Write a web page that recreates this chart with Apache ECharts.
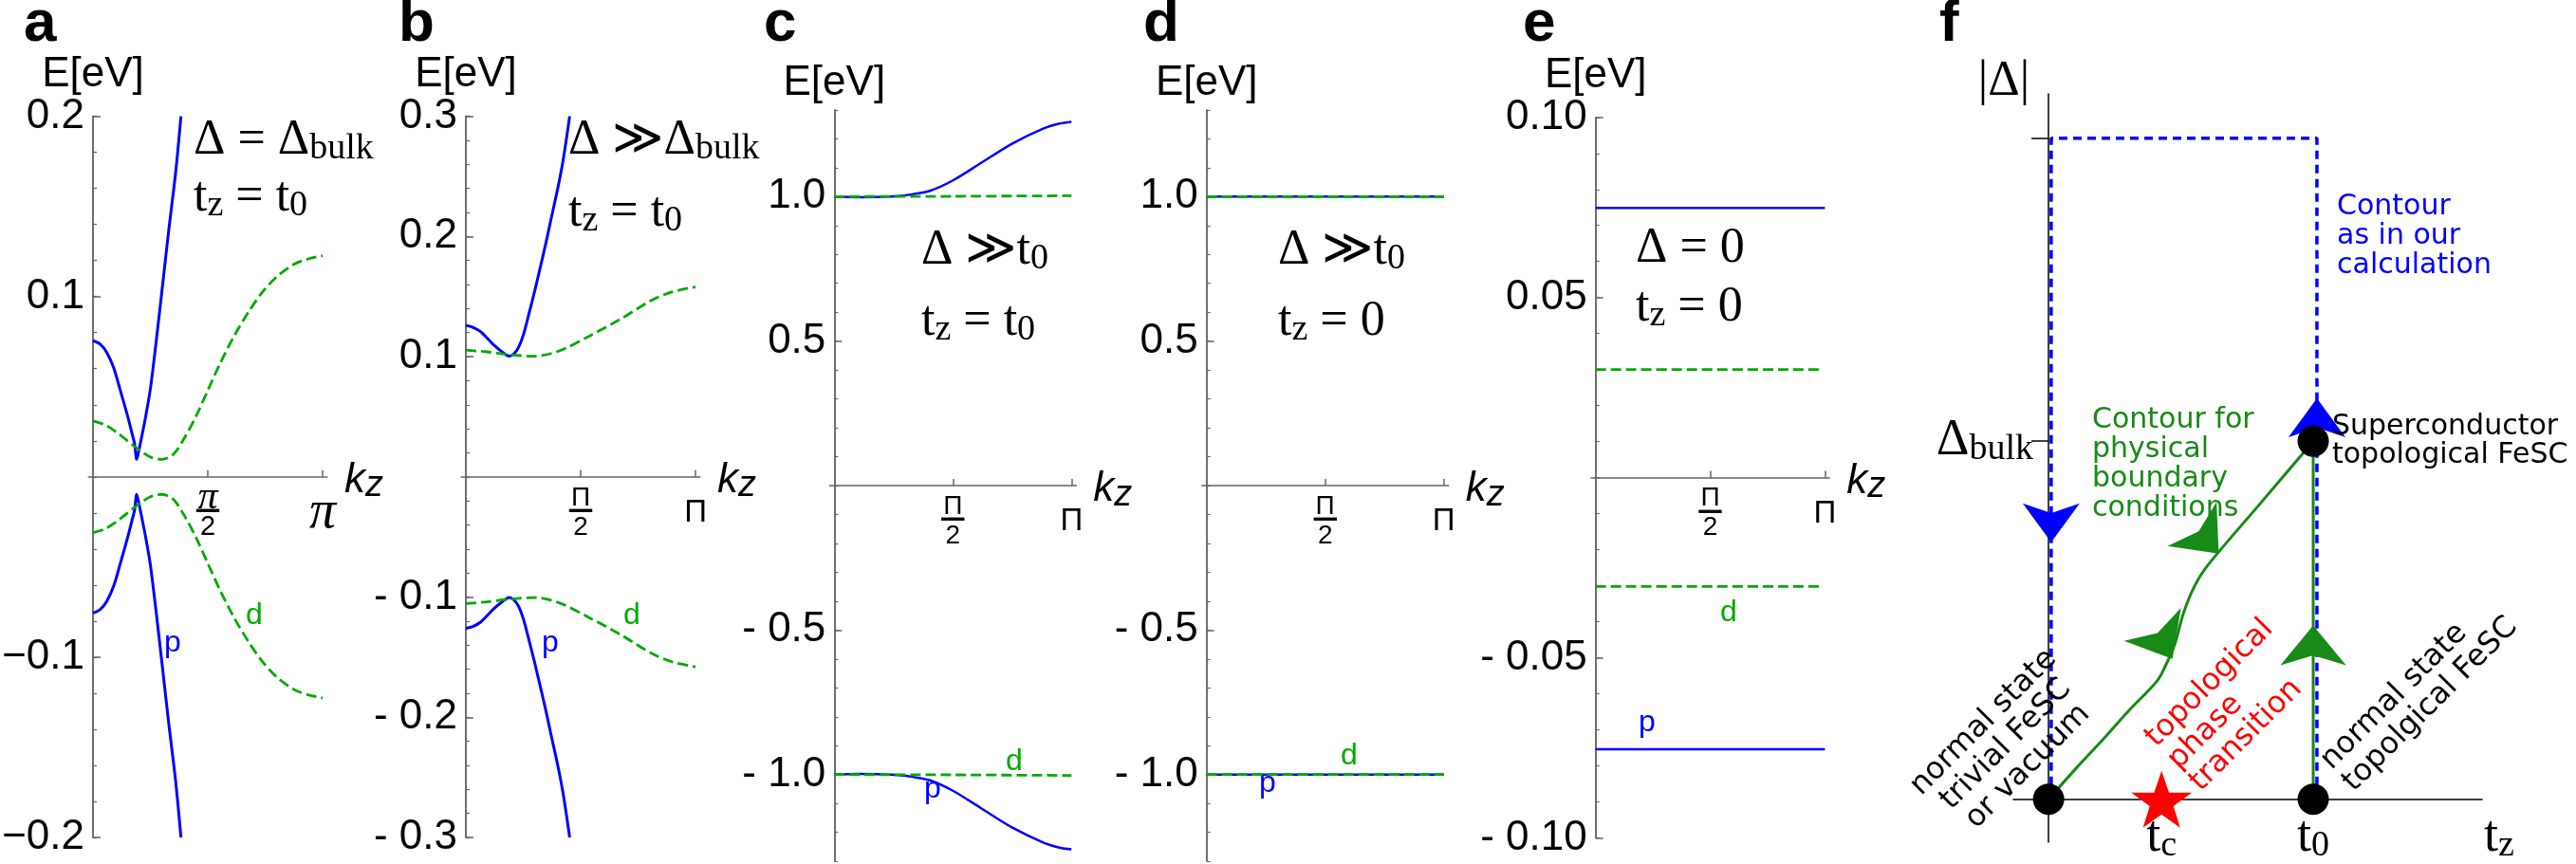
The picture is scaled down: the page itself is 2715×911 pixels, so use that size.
<!DOCTYPE html>
<html>
<head>
<meta charset="utf-8">
<script src="https://cdn.jsdelivr.net/npm/echarts@6/dist/echarts.min.js"></script>
<style>
html, body { margin: 0; padding: 0; background: #fff; }
#chart { width: 2715px; height: 911px; }
</style>
</head>
<body>
<div id="chart"></div>
<script>
// k_z is given as a fraction of pi (0 .. 1)
const kzTicks = [0.5, 1];
const aYTicks = [-0.2, -0.1, 0.1, 0.2];
const bYTicks = [-0.3, -0.2, -0.1, 0.1, 0.2, 0.3];
const cdYTicks = [-1.0, -0.5, 0.5, 1.0];
const eYTicks = [-0.1, -0.05, 0.05, 0.1];

// panel a
const aKzP = [0, 0.03, 0.06, 0.09, 0.118, 0.15, 0.17, 0.181, 0.19, 0.196, 0.21, 0.23, 0.25, 0.275, 0.30, 0.33, 0.36, 0.383];
const aPUpper = [0.0755, 0.0737, 0.069, 0.0605, 0.0484, 0.034, 0.024, 0.0184, 0.0097, 0.0125, 0.021, 0.034, 0.049, 0.075, 0.103, 0.137, 0.169, 0.2];
const aPLower = [-0.0755, -0.0737, -0.069, -0.0605, -0.0484, -0.034, -0.024, -0.0184, -0.0097, -0.0125, -0.021, -0.034, -0.049, -0.075, -0.103, -0.137, -0.169, -0.2];
const aKzD = [0, 0.05, 0.1, 0.15, 0.19, 0.25, 0.30, 0.35, 0.40, 0.45, 0.50, 0.55, 0.614, 0.68, 0.738, 0.80, 0.876, 0.94, 1.0];
const aDUpper = [0.031, 0.029, 0.025, 0.020, 0.016, 0.011, 0.0097, 0.0125, 0.022, 0.034, 0.048, 0.062, 0.078, 0.092, 0.1025, 0.111, 0.118, 0.121, 0.1226];
const aDLower = [-0.031, -0.029, -0.025, -0.020, -0.016, -0.011, -0.0097, -0.0125, -0.022, -0.034, -0.048, -0.062, -0.078, -0.092, -0.1025, -0.111, -0.118, -0.121, -0.1226];

// panel b
const bKzP = [0, 0.03, 0.065, 0.12, 0.161, 0.189, 0.21, 0.23, 0.25, 0.271, 0.30, 0.326, 0.35, 0.368, 0.40, 0.423, 0.452];
const bPUpper = [0.126, 0.1245, 0.1207, 0.110, 0.1035, 0.1004, 0.1025, 0.108, 0.118, 0.133, 0.155, 0.176, 0.196, 0.212, 0.240, 0.263, 0.300];
const bPLower = [-0.126, -0.1245, -0.1207, -0.110, -0.1035, -0.1004, -0.1025, -0.108, -0.118, -0.133, -0.155, -0.176, -0.196, -0.212, -0.240, -0.263, -0.300];
const bKzD = [0, 0.092, 0.189, 0.299, 0.409, 0.533, 0.671, 0.81, 0.9, 1.0];
const bDUpper = [0.1054, 0.104, 0.1017, 0.1004, 0.105, 0.1167, 0.131, 0.147, 0.154, 0.158];
const bDLower = [-0.1054, -0.104, -0.1017, -0.1004, -0.105, -0.1167, -0.131, -0.147, -0.154, -0.158];

// panel c
const cKzP = [0, 0.1, 0.2, 0.27, 0.33, 0.403, 0.5, 0.616, 0.749, 0.883, 0.95, 1.0];
const cPUpper = [1.0, 0.998, 0.999, 1.002, 1.008, 1.02, 1.056, 1.115, 1.183, 1.236, 1.253, 1.259];
const cPLower = [-1.0, -0.998, -0.999, -1.002, -1.008, -1.02, -1.056, -1.115, -1.183, -1.236, -1.253, -1.259];
const cKzD = [0, 0.5, 1.0];
const cDUpper = [1.0, 1.001, 1.003];
const cDLower = [-1.0, -1.001, -1.003];

// panel d
const dKz = [0, 1.0];
const dPUpper = [1.0, 1.0];
const dPLower = [-1.0, -1.0];
const dDUpper = [1.0, 1.0];
const dDLower = [-1.0, -1.0];

// panel e
const eKzP = [0, 1.0];
const ePUpper = [0.0749, 0.0749];
const ePLower = [-0.0754, -0.0754];
const eKzD = [0, 0.98];
const eDUpper = [0.030, 0.030];
const eDLower = [-0.0302, -0.0302];

// panel f (t_z in units of t0, |Delta| in units of Delta_bulk)
const fTc = 0.427;
const fTzLabels = [fTc, 1];
const fGapTicks = [1, 1.846];
const fStateTz = [0, 1, 1];
const fStateGap = [0, 0, 1];
const fBlueTz = [0.01, 0.01, 1.014, 1.014];
const fBlueGap = [0, 1.846, 1.846, 0];
const fGreenUpTz = [1, 1];
const fGreenUpGap = [0, 1];
const fGreenTz = [1, 0.80, 0.60, 0.55, 0.51, 0.476, 0.44, 0.41, 0.30, 0.217, 0.10, 0];
const fGreenGap = [1, 0.826, 0.652, 0.593, 0.52, 0.431, 0.37, 0.33, 0.245, 0.176, 0.083, 0];
const fArrowBlue = [[0.01, 0.718, 180], [1.014, 1.12, 0]];
const fArrowGreen = [[1, 0.485, 0], [0.643, 0.686, -138], [0.468, 0.392, -150]];

const SANS = "'Liberation Sans', Arial, sans-serif";
const SERIF = "'Liberation Serif', 'Times New Roman', serif";
const DEJAVU = "'DejaVu Sans', sans-serif";
const BLUE = '#0000ff';
const GREEN = '#00aa00';
const FGREEN = '#178a17';
const AXIS = '#666';
const STAR = 'path://M50,0 L61.8,35.1 L98.1,35.1 L68.8,56.7 L79.4,91 L50,70 L20.6,91 L31.2,56.7 L1.9,35.1 L38.2,35.1 Z';

function zip(xs, ys) { return xs.map((x, i) => [x, ys[i]]); }

const grids = [
  {left: 93.2, top: 122.6, width: 251.7, height: 760.4},
  {left: 486.2, top: 122.6, width: 251.7, height: 760.4},
  {left: 874.3, top: 115.9, width: 260, height: 792.2},
  {left: 1266.7, top: 115.9, width: 260, height: 792.2},
  {left: 1676.9, top: 123.8, width: 251.3, height: 759.6},
  {left: 2122, top: 99, width: 494, height: 789}
].map(g => Object.assign({containLabel: false, outerBoundsMode: 'none'}, g));

// axes sit on the zero lines: shift them from the grid edges
function xOffset(g, ymin, ymax) { return -g.height * (0 - ymin) / (ymax - ymin); }
function yOffset(g, xmin, xmax) { return -g.width * (0 - xmin) / (xmax - xmin); }

const fmtA = v => (v < 0 ? '\u2212' : '') + Math.abs(v).toFixed(1);
const fmtB = v => (v < 0 ? '- ' : '') + Math.abs(v).toFixed(1);
const fmtE = v => (v < 0 ? '- ' : '') + Math.abs(v).toFixed(2);

const panels = [
  {min: -0.2, max: 0.2, minor: 0.02, ticks: aYTicks, fmt: fmtA, gap: 10, serifPi: true,
   p: [zip(aKzP, aPUpper), zip(aKzP, aPLower)], d: [zip(aKzD, aDUpper), zip(aKzD, aDLower)], pw: 3},
  {min: -0.3, max: 0.3, minor: 0.02, ticks: bYTicks, fmt: fmtB, gap: 10, serifPi: false,
   p: [zip(bKzP, bPUpper), zip(bKzP, bPLower)], d: [zip(bKzD, bDUpper), zip(bKzD, bDLower)], pw: 3},
  {min: -1.3, max: 1.3, minor: 0.1, ticks: cdYTicks, fmt: fmtB, gap: 6, serifPi: false,
   p: [zip(cKzP, cPUpper), zip(cKzP, cPLower)], d: [zip(cKzD, cDUpper), zip(cKzD, cDLower)], pw: 2.5},
  {min: -1.3, max: 1.3, minor: 0.1, ticks: cdYTicks, fmt: fmtB, gap: 6, serifPi: false,
   p: [zip(dKz, dPUpper), zip(dKz, dPLower)], d: [zip(dKz, dDUpper), zip(dKz, dDLower)], pw: 2.5},
  {min: -0.1, max: 0.1, minor: 0.01, ticks: eYTicks, fmt: fmtE, gap: 10, serifPi: false,
   p: [zip(eKzP, ePUpper), zip(eKzP, ePLower)], d: [zip(eKzD, eDUpper), zip(eKzD, eDLower)], pw: 2.5}
];

const xAxes = [];
const yAxes = [];
const series = [];
const KZMIN = -0.02, KZMAX = 1.02;

panels.forEach((p, i) => {
  const g = grids[i];
  const xo = xOffset(g, p.min, p.max);
  const yo = yOffset(g, KZMIN, KZMAX);
  const piChar = p.serifPi ? '\u03c0' : '\u03a0';
  const rich = p.serifPi ? {
    n: {fontFamily: SERIF, fontStyle: 'italic', fontSize: 42, lineHeight: 24},
    b: {fontFamily: DEJAVU, fontSize: 20, lineHeight: 6},
    d: {fontFamily: SANS, fontSize: 29, lineHeight: 26},
    p: {fontFamily: SERIF, fontStyle: 'italic', fontSize: 56, lineHeight: 40}
  } : {
    n: {fontFamily: SANS, fontSize: 28, lineHeight: 24},
    b: {fontFamily: DEJAVU, fontSize: 20, lineHeight: 6},
    d: {fontFamily: SANS, fontSize: 28, lineHeight: 26},
    p: {fontFamily: SANS, fontSize: 33, lineHeight: 34}
  };
  xAxes.push({
    gridIndex: i, type: 'value', min: KZMIN, max: KZMAX, position: 'bottom', offset: xo,
    axisLine: {onZero: false, lineStyle: {color: AXIS, width: 1.5}},
    axisTick: {customValues: kzTicks, inside: true, length: 7, lineStyle: {color: AXIS, width: 1.5}},
    splitLine: {show: false},
    axisLabel: {
      customValues: kzTicks, margin: 38, verticalAlign: 'middle', color: '#000',
      formatter: v => v < 0.75 ? '{n|' + piChar + '}\n{b|\u2501\u2501}\n{d|2}' : '{p|' + piChar + '}',
      rich: rich
    },
    name: '{k|k}{z|z}', nameLocation: 'end', nameGap: 18,
    nameTextStyle: {
      padding: [8, 0, 0, 0],
      rich: {
        k: {fontFamily: SANS, fontStyle: 'italic', fontSize: 44, lineHeight: 50, color: '#000'},
        z: {fontFamily: SANS, fontStyle: 'italic', fontSize: 38, lineHeight: 30, verticalAlign: 'bottom', color: '#000'}
      }
    }
  });
  yAxes.push({
    gridIndex: i, type: 'value', min: p.min, max: p.max, interval: p.minor, position: 'left', offset: yo,
    axisLine: {onZero: false, lineStyle: {color: AXIS, width: 1.5}},
    axisTick: {inside: true, length: 4, lineStyle: {color: AXIS, width: 1.2}},
    splitLine: {show: false},
    axisLabel: {customValues: p.ticks, formatter: p.fmt, margin: 9, fontFamily: SANS, fontSize: 44, color: '#000'},
    name: 'E[eV]', nameLocation: 'end', nameGap: p.gap,
    nameTextStyle: {fontFamily: SANS, fontSize: 44, color: '#000'}
  });
  yAxes.push({
    gridIndex: i, type: 'value', min: p.min, max: p.max, position: 'left', offset: yo,
    axisLine: {onZero: false, lineStyle: {color: AXIS, width: 1.5}},
    axisTick: {customValues: p.ticks, inside: true, length: 8, lineStyle: {color: AXIS, width: 1.5}},
    axisLabel: {show: false},
    splitLine: {show: false}
  });
  p.p.forEach(data => series.push({
    type: 'line', xAxisIndex: i, yAxisIndex: 2 * i, data: data, showSymbol: false, smooth: 0.3, silent: true,
    lineStyle: {color: BLUE, width: p.pw}
  }));
  p.d.forEach(data => series.push({
    type: 'line', xAxisIndex: i, yAxisIndex: 2 * i, data: data, showSymbol: false, smooth: 0.3, silent: true,
    lineStyle: {color: GREEN, width: 2.8, type: [11, 5]}
  }));
});

// panel f
const fSerifRich = {
  m: {fontFamily: SERIF, fontSize: 54, lineHeight: 56, color: '#000'},
  s: {fontFamily: SERIF, fontSize: 38, lineHeight: 36, verticalAlign: 'bottom', color: '#000'}
};
const FXMIN = -0.133, FXMAX = 1.638, FYMIN = -0.12, FYMAX = 1.97;
xAxes.push({
  gridIndex: 5, type: 'value', min: FXMIN, max: FXMAX, position: 'bottom', offset: xOffset(grids[5], FYMIN, FYMAX),
  axisLine: {onZero: false, lineStyle: {color: '#000', width: 1.5}},
  axisTick: {show: false},
  splitLine: {show: false},
  axisLabel: {
    customValues: fTzLabels, margin: 40, verticalAlign: 'middle',
    formatter: v => Math.abs(v - 1) < 1e-6 ? '{m|t}{s|0}' : '{m|t}{s|c}',
    rich: fSerifRich
  }
});
yAxes.push({
  gridIndex: 5, type: 'value', min: FYMIN, max: FYMAX, position: 'left', offset: yOffset(grids[5], FXMIN, FXMAX),
  axisLine: {onZero: false, lineStyle: {color: '#000', width: 1.5}},
  axisTick: {customValues: fGapTicks, inside: false, length: 18, lineStyle: {color: '#000', width: 1.5}},
  splitLine: {show: false},
  axisLabel: {customValues: [1], margin: 16, formatter: () => '{m|\u0394}{s|bulk}', rich: fSerifRich}
});
const fy = 2 * panels.length;
series.push({
  type: 'line', xAxisIndex: 5, yAxisIndex: fy, data: zip(fBlueTz, fBlueGap), showSymbol: false, silent: true,
  lineStyle: {color: BLUE, width: 3.5, type: [9, 6]}
});
series.push({
  type: 'line', xAxisIndex: 5, yAxisIndex: fy, data: zip(fGreenUpTz, fGreenUpGap), showSymbol: false, silent: true,
  lineStyle: {color: FGREEN, width: 3}
});
series.push({
  type: 'line', xAxisIndex: 5, yAxisIndex: fy, data: zip(fGreenTz, fGreenGap), showSymbol: false, smooth: 0.3, silent: true,
  lineStyle: {color: FGREEN, width: 3}
});
series.push({
  type: 'scatter', xAxisIndex: 5, yAxisIndex: fy, symbol: 'arrow', symbolSize: [45, 41], silent: true, z: 4,
  itemStyle: {color: BLUE, opacity: 1},
  data: fArrowBlue.map(a => ({value: [a[0], a[1]], symbolRotate: a[2]}))
});
series.push({
  type: 'scatter', xAxisIndex: 5, yAxisIndex: fy, symbol: 'arrow', symbolSize: [52, 42], silent: true, z: 4,
  itemStyle: {color: FGREEN, opacity: 1},
  data: fArrowGreen.map(a => ({value: [a[0], a[1]], symbolRotate: a[2]}))
});
series.push({
  type: 'scatter', xAxisIndex: 5, yAxisIndex: fy, symbol: 'circle', symbolSize: 33, silent: true, z: 5,
  itemStyle: {color: '#000', opacity: 1}, data: zip(fStateTz, fStateGap)
});
series.push({
  type: 'scatter', xAxisIndex: 5, yAxisIndex: fy, symbol: STAR, symbolSize: [64, 60], silent: true, z: 5,
  itemStyle: {color: '#ff0000', opacity: 1}, data: [[fTc, 0]]
});

// text annotations
function txt(x, y, text, style, extra) {
  return Object.assign({type: 'text', x: x, y: y, z: 100, silent: true,
    style: Object.assign({text: text, textAlign: 'left', textVerticalAlign: 'middle', fill: '#000'}, style)}, extra || {});
}
const letterFont = 'bold 62px ' + SANS;
const annRich = {
  m: {fontFamily: SERIF, fontSize: 52, lineHeight: 56},
  s: {fontFamily: SERIF, fontSize: 38, lineHeight: 34, verticalAlign: 'bottom'}
};
const labFont = '32px ' + SANS;
const fFont = '30px ' + DEJAVU;
const rotFont = '32px ' + DEJAVU;
const elements = [
  txt(25, 26, 'a', {font: letterFont}),
  txt(420, 26, 'b', {font: letterFont}),
  txt(805, 26, 'c', {font: letterFont}),
  txt(1205, 26, 'd', {font: letterFont}),
  txt(1605, 26, 'e', {font: letterFont}),
  txt(2044, 26, 'f', {font: letterFont}),

  txt(204, 148, '{m|\u0394 = \u0394}{s|bulk}', {rich: annRich}),
  txt(204, 208, '{m|t}{s|z}{m| = t}{s|0}', {rich: annRich}),
  txt(599, 148, '{m|\u0394 \u226b\u0394}{s|bulk}', {rich: annRich}),
  txt(599, 224, '{m|t}{s|z}{m| = t}{s|0}', {rich: annRich}),
  txt(971, 264, '{m|\u0394 \u226bt}{s|0}', {rich: annRich}),
  txt(971, 339, '{m|t}{s|z}{m| = t}{s|0}', {rich: annRich}),
  txt(1347, 264, '{m|\u0394 \u226bt}{s|0}', {rich: annRich}),
  txt(1347, 339, '{m|t}{s|z}{m| = 0}', {rich: annRich}),
  txt(1724, 262, '{m|\u0394 = 0}', {rich: annRich}),
  txt(1724, 324, '{m|t}{s|z}{m| = 0}', {rich: annRich}),

  txt(182, 678, 'p', {font: labFont, fill: BLUE, textAlign: 'center'}),
  txt(268, 649, 'd', {font: labFont, fill: GREEN, textAlign: 'center'}),
  txt(580, 678, 'p', {font: labFont, fill: BLUE, textAlign: 'center'}),
  txt(666, 649, 'd', {font: labFont, fill: GREEN, textAlign: 'center'}),
  txt(983, 832, 'p', {font: labFont, fill: BLUE, textAlign: 'center'}),
  txt(1069, 803, 'd', {font: labFont, fill: GREEN, textAlign: 'center'}),
  txt(1336, 826, 'p', {font: labFont, fill: BLUE, textAlign: 'center'}),
  txt(1422, 797, 'd', {font: labFont, fill: GREEN, textAlign: 'center'}),
  txt(1736, 762, 'p', {font: labFont, fill: BLUE, textAlign: 'center'}),
  txt(1822, 646, 'd', {font: labFont, fill: GREEN, textAlign: 'center'}),

  txt(2112, 86, '|\u0394|', {font: '52px ' + SERIF, textAlign: 'center'}),
  txt(2618, 883, '{m|t}{s|z}', {rich: fSerifRich}),
  txt(2463, 249, 'Contour\nas in our\ncalculation', {font: fFont, fill: BLUE, lineHeight: 31}),
  txt(2205, 490, 'Contour for\nphysical\nboundary\nconditions', {font: fFont, fill: FGREEN, lineHeight: 31}),
  txt(2458, 465, 'Superconductor\ntopological FeSC', {font: fFont, lineHeight: 30}),
  txt(2114, 785, 'normal state\ntrivial FeSC\nor vacuum', {font: rotFont, lineHeight: 33, textAlign: 'center'}, {rotation: Math.PI / 4}),
  txt(2290, 806, 'topological\nphase\ntransition', {font: rotFont, lineHeight: 33, fill: '#ff0000'}, {rotation: Math.PI / 4}),
  txt(2463, 818, 'normal state\ntopolgical FeSC', {font: rotFont, lineHeight: 33}, {rotation: Math.PI / 4})
];

const chart = echarts.init(document.getElementById('chart'));
chart.setOption({
  animation: false,
  backgroundColor: '#fff',
  grid: grids,
  xAxis: xAxes,
  yAxis: yAxes,
  series: series,
  graphic: {elements: elements}
});
</script>
</body>
</html>
